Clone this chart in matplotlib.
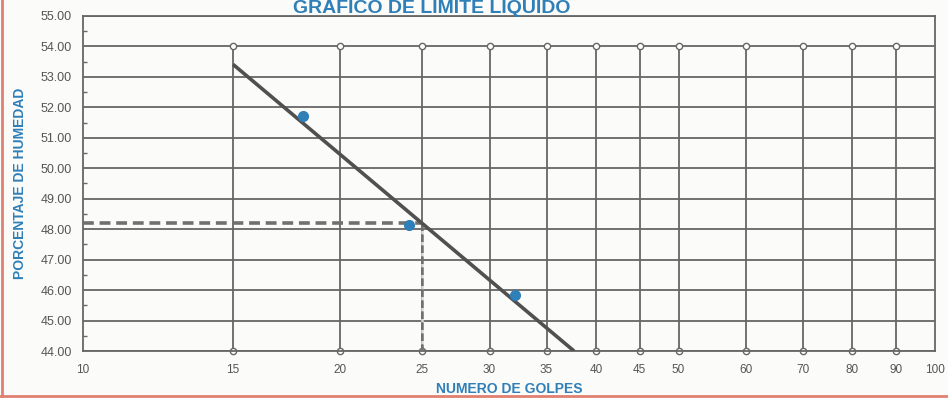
import numpy as np
import matplotlib.pyplot as plt
from matplotlib.lines import Line2D

plt.rcParams['font.family'] = ['Liberation Sans', 'DejaVu Sans']

# ensayo de limite liquido: numero de golpes vs contenido de humedad
golpes = [18.1, 24.1, 32.1]
humedad = [51.7, 48.15, 45.85]

x_ticks = [10, 15, 20, 25, 30, 35, 40, 45, 50, 60, 70, 80, 90, 100]
x_grid = [15, 20, 25, 30, 35, 40, 45, 50, 60, 70, 80, 90]
y_ticks = [44, 45, 46, 47, 48, 49, 50, 51, 52, 53, 54, 55]
golpes_ref = 25

azul = '#2f7fb8'
gris = '#666666'

# recta semilogaritmica de ajuste
m, b = np.polyfit(np.log10(golpes), humedad, 1)
x_fin = 10 ** ((y_ticks[0] - b) / m)
x_fit = np.array([x_grid[0], x_fin])
y_fit = m * np.log10(x_fit) + b
ll = m * np.log10(golpes_ref) + b

fig = plt.figure(figsize=(9.48, 3.98), dpi=100)
fig.patch.set_facecolor('#fbfbf9')
ax = fig.add_axes([0.0876, 0.118, 0.8987, 0.842])
ax.set_facecolor('#fbfbf9')
ax.set_xscale('log')
ax.set_xlim(10, 100)
ax.set_ylim(44, 55)

# lineas horizontales
for y in y_ticks:
    ax.axhline(y, color=gris, lw=1.3, zorder=1)

# lineas verticales con marcadores en los extremos
for xg in x_grid:
    ax.plot([xg, xg], [y_ticks[0], y_ticks[-2]], color=gris, lw=1.3,
            marker='o', ms=4.5, mfc='white', mec=gris, mew=1.0,
            zorder=2, clip_on=False)

for s in ax.spines.values():
    s.set_color(gris)
    s.set_linewidth(1.3)

ax.set_xticks(x_ticks)
ax.set_xticklabels([str(v) for v in x_ticks])
ax.xaxis.set_minor_locator(plt.NullLocator())
ax.tick_params(axis='x', length=0, pad=9, labelsize=8.5, labelcolor='#555555')

ax.set_yticks(y_ticks)
ax.set_yticklabels([f'{v:.2f}' for v in y_ticks])
ax.set_yticks([v + 0.5 for v in y_ticks[:-1]], minor=True)
ax.tick_params(axis='y', which='major', length=0, pad=8, labelsize=9,
               labelcolor='#555555')
ax.tick_params(axis='y', which='minor', direction='in', length=3,
               color=gris, width=1.0)

# limite liquido a 25 golpes
ax.plot([10, golpes_ref], [ll, ll], color='#707070', lw=2.6, ls=(0, (3, 1.6)),
        zorder=3)
ax.plot([golpes_ref, golpes_ref], [ll, y_ticks[0]], color='#707070', lw=1.8,
        ls=(0, (3, 1.4)), gapcolor='#d8d8d8', zorder=3)

ax.plot(x_fit, y_fit, color='#505050', lw=2.6, zorder=4, solid_capstyle='butt')
ax.plot(golpes, humedad, 'o', color=azul, ms=7, zorder=5)

ax.set_xlabel('NUMERO DE GOLPES', color=azul, fontsize=10, fontweight='bold',
              labelpad=5)
ax.set_ylabel('PORCENTAJE DE HUMEDAD', color=azul, fontsize=10,
              fontweight='bold', labelpad=10)

fig.text(0.455, 1.0, 'GRAFICO DE LIMITE LIQUIDO', color=azul, fontsize=14,
         fontweight='bold', ha='center', va='top')

# borde rojizo del papel
fig.add_artist(Line2D([0.002, 0.002], [0, 1], color='#e08070', lw=2,
                      transform=fig.transFigure))
fig.add_artist(Line2D([0, 1], [0.004, 0.004], color='#e08070', lw=2,
                      transform=fig.transFigure))

fig.savefig('out.png', dpi=100, facecolor=fig.get_facecolor())
